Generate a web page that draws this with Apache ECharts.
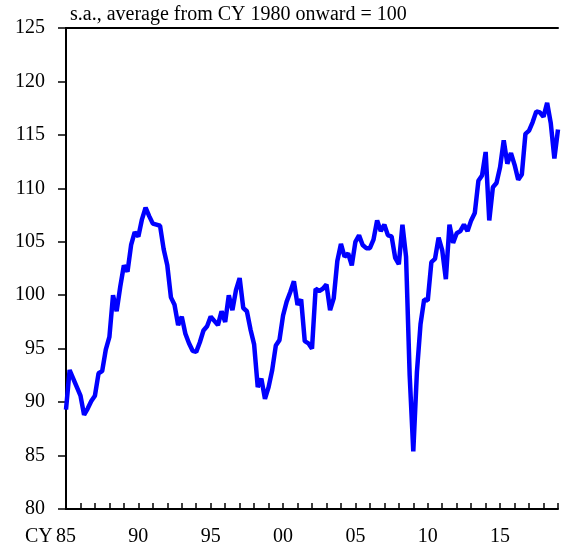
<!DOCTYPE html>
<html>
<head>
<meta charset="utf-8">
<script src="https://cdn.jsdelivr.net/npm/echarts@6/dist/echarts.min.js"></script>
<style>
  html, body { margin: 0; padding: 0; background: #fff; overflow: hidden; }
  #main { width: 561px; height: 547px; }
</style>
</head>
<body>
<div id="main"></div>
<script>
// quarterly index, s.a., average from CY1980 onward = 100 (first point = 1985 Q1)
var startYear = 1985;
var q1985_89 = [89.3, 93.0, 92.2, 91.4, 90.6, 88.8, 89.4, 90.1, 90.6, 92.7, 92.9, 94.9, 96.1, 100.0, 98.5, 100.8, 102.8, 102.2, 104.7, 105.9];
var q1990_94 = [105.5, 107.1, 108.2, 107.4, 106.7, 106.6, 106.5, 104.3, 102.8, 99.8, 99.1, 97.2, 98.0, 96.4, 95.5, 94.8, 94.7, 95.6, 96.7, 97.1];
var q1995_99 = [98.0, 97.6, 97.2, 98.5, 97.5, 100.0, 98.6, 100.5, 101.6, 98.8, 98.5, 96.8, 95.4, 91.4, 92.2, 90.3, 91.4, 93.0, 95.3, 95.8];
var q2000_04 = [98.1, 99.4, 100.3, 101.3, 99.1, 99.6, 95.7, 95.5, 95.0, 100.6, 100.4, 100.6, 101.0, 98.6, 99.7, 103.2, 104.8, 103.6, 103.9, 102.8];
var q2005_09 = [105.0, 105.6, 104.7, 104.4, 104.4, 105.2, 107.0, 106.0, 106.6, 105.6, 105.5, 103.5, 102.9, 106.6, 103.6, 92.5, 85.4, 92.8, 97.3, 99.6];
var q2010_14 = [99.5, 103.1, 103.4, 105.4, 104.2, 101.5, 106.6, 104.9, 105.8, 106.0, 106.6, 106.0, 107.0, 107.7, 110.7, 111.2, 113.4, 107.0, 110.1, 110.5];
var q2015_19 = [112.0, 114.5, 112.3, 113.3, 112.2, 110.8, 111.3, 115.1, 115.4, 116.2, 117.2, 117.1, 116.7, 118.0, 116.1, 112.8, 115.5];

var yTicks = [80, 85, 90, 95, 100, 105, 110, 115, 120, 125];
var subtitle = 's.a., average from CY 1980 onward = 100';

var values = [].concat(q1985_89, q1990_94, q1995_99, q2000_04, q2005_09, q2010_14, q2015_19);
var seriesData = values.map(function (v, i) {
    return [startYear + i / 4, v];
});

var serif = "'Liberation Serif', 'Times New Roman', serif";
var chart = echarts.init(document.getElementById('main'));
chart.setOption({
    animation: false,
    backgroundColor: '#fff',
    title: {
        text: subtitle,
        left: 70,
        top: 5,
        padding: 0,
        textStyle: { fontFamily: serif, fontSize: 20, fontWeight: 'normal', color: '#000' }
    },
    graphic: [{
        type: 'text',
        left: 25,
        top: 527,
        style: { text: 'CY', font: '20px ' + serif, fill: '#000' }
    }],
    grid: { left: 66, top: 28, width: 496, height: 481 },
    xAxis: [{
        type: 'value',
        min: 1985,
        max: 2019,
        interval: 1,
        axisLine: { lineStyle: { color: '#000', width: 2 } },
        axisTick: { inside: true, length: 6, lineStyle: { color: '#000', width: 1.5 } },
        splitLine: { show: false },
        axisLabel: {
            margin: 18,
            color: '#000',
            fontFamily: serif,
            fontSize: 20,
            formatter: function (v) {
                return v % 5 === 0 ? String(v).slice(2) : '';
            }
        }
    }, {
        type: 'value',
        position: 'top',
        min: 1985,
        max: 2019,
        axisLine: { show: true, lineStyle: { color: '#000', width: 2 } },
        axisTick: { show: false },
        axisLabel: { show: false },
        splitLine: { show: false }
    }],
    yAxis: {
        type: 'value',
        min: yTicks[0],
        max: yTicks[yTicks.length - 1],
        interval: 5,
        axisLine: { show: true, lineStyle: { color: '#000', width: 2 } },
        axisTick: { show: true, length: 8, lineStyle: { color: '#000', width: 1.5 } },
        splitLine: { show: false },
        axisLabel: { margin: 21, color: '#000', fontFamily: serif, fontSize: 20 }
    },
    series: [{
        type: 'line',
        data: seriesData,
        showSymbol: false,
        symbol: 'none',
        lineStyle: { color: '#0000ff', width: 4.5 },
        clip: true
    }]
});
</script>
</body>
</html>
